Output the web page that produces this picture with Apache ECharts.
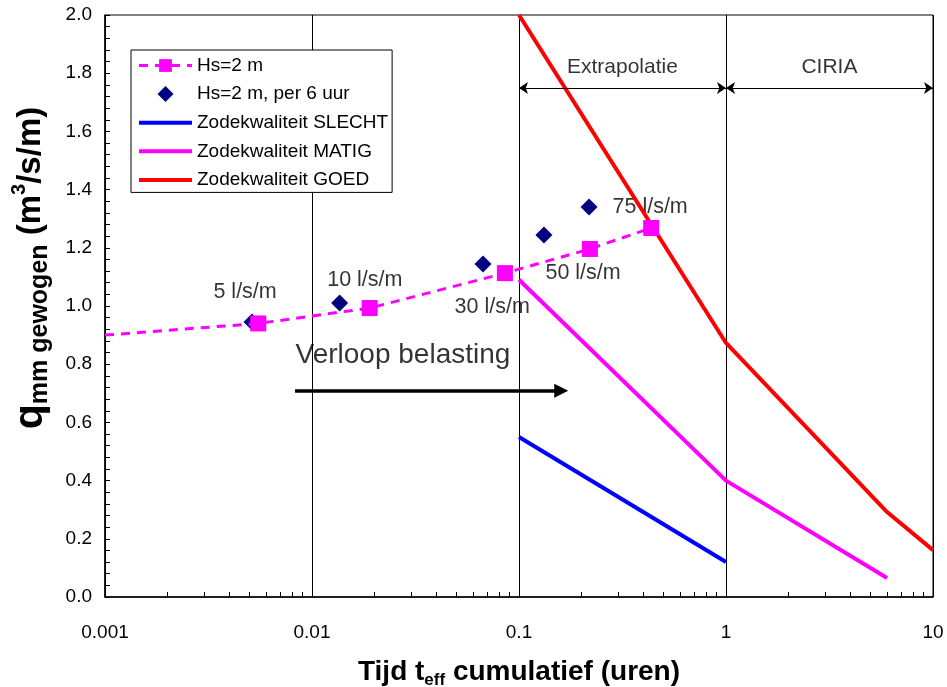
<!DOCTYPE html>
<html>
<head>
<meta charset="utf-8">
<script src="https://cdn.jsdelivr.net/npm/echarts@6/dist/echarts.min.js"></script>
<style>
html,body{margin:0;padding:0;background:#fff;}
#chart{width:947px;height:687px;}
</style>
</head>
<body>
<div id="chart"></div>
<script>
// ---- data ----
var xTicks = [0.001, 0.01, 0.1, 1, 10];
var yTicks = [0.0, 0.2, 0.4, 0.6, 0.8, 1.0, 1.2, 1.4, 1.6, 1.8, 2.0];

// Hs=2 m (dashed line with squares); first point is the line start without marker
var hsX = [0.001, 0.0055, 0.019, 0.0855, 0.22, 0.435];
var hsY = [0.90, 0.94, 0.993, 1.113, 1.196, 1.268];

// Hs=2 m, per 6 uur (diamonds)
var h6X = [0.00513, 0.0136, 0.067, 0.132, 0.218];
var h6Y = [0.945, 1.01, 1.144, 1.244, 1.34];

// Zodekwaliteit lines
var slechtX = [0.1, 1];
var slechtY = [0.55, 0.12];
var matigX = [0.1, 1, 6];
var matigY = [1.09, 0.40, 0.065];
var goedX = [0.1, 1, 6, 10];
var goedY = [2.0, 0.873, 0.292, 0.161];

// annotation texts (data coordinates)
var rateText = ['5 l/s/m', '10 l/s/m', '30 l/s/m', '50 l/s/m', '75 l/s/m'];
var rateX = [0.00475, 0.018, 0.0742, 0.204, 0.43];
var rateY = [1.048, 1.089, 0.997, 1.113, 1.34];

var regionText = ['Extrapolatie', 'CIRIA'];
var regionX = [0.316, 3.16];
var regionY = [1.821, 1.821];
var regionArrowY = 1.749;
var regionBounds = [0.1, 1, 10];

var trendText = 'Verloop belasting';
var trendTextPos = [0.0275, 0.832];
var trendArrowX = [0.00828, 0.16];
var trendArrowY = 0.709;

var names = ['Hs=2 m', 'Hs=2 m, per 6 uur', 'Zodekwaliteit SLECHT', 'Zodekwaliteit MATIG', 'Zodekwaliteit GOED'];

function pairs(xs, ys) { return xs.map(function (x, i) { return [x, ys[i]]; }); }

var FONT = '"Liberation Sans", Arial, sans-serif';
var DIAMOND = 'path://M0,-1L1,0L0,1L-1,0Z';

var hsData = pairs(hsX, hsY).map(function (p, i) {
  return i === 0 ? { value: p, symbol: 'none' } : { value: p };
});

var rateData = rateText.map(function (t, i) { return { name: t, value: [rateX[i], rateY[i]] }; });
var regionData = regionText.map(function (t, i) { return { name: t, value: [regionX[i], regionY[i]] }; });
var trendData = [{ name: trendText, value: trendTextPos }];

var regionArrows = [];
for (var i = 0; i < regionBounds.length - 1; i++) {
  regionArrows.push([{ coord: [regionBounds[i], regionArrowY] }, { coord: [regionBounds[i + 1], regionArrowY] }]);
}

var chart = echarts.init(document.getElementById('chart'), null, { renderer: 'canvas' });

var legendData = names.map(function (n, i) {
  if (i >= 2) return { name: n, itemStyle: { opacity: 0 }, lineStyle: { width: 4 } };
  if (i === 1) return { name: n, icon: DIAMOND };
  return { name: n, lineStyle: { width: 3 } };
});

var option = {
  animation: false,
  backgroundColor: '#fff',
  textStyle: { fontFamily: FONT },
  grid: {
    left: 105, right: 14, top: 15, bottom: 90,
    containLabel: false, outerBoundsMode: 'none',
    show: true, borderColor: '#000', borderWidth: 1, backgroundColor: 'transparent'
  },
  legend: {
    data: legendData,
    orient: 'vertical',
    left: 131, top: 50,
    backgroundColor: '#fff',
    borderColor: '#000', borderWidth: 1,
    padding: [6, 4, 3, 6],
    itemGap: 9.6,
    itemWidth: 53, itemHeight: 16,
    textStyle: { fontSize: 19, color: '#000', fontFamily: FONT },
    selectedMode: false
  },
  xAxis: {
    type: 'log', logBase: 10, min: 0.001, max: 10,
    name: '{a|Tijd t}{s|eff}{a| cumulatief (uren)}',
    nameLocation: 'middle', nameGap: 58,
    nameTextStyle: {
      rich: {
        a: { fontSize: 28, fontWeight: 'bold', color: '#000', fontFamily: FONT, lineHeight: 34, verticalAlign: 'middle' },
        s: { fontSize: 17, fontWeight: 'bold', color: '#000', fontFamily: FONT, lineHeight: 34, verticalAlign: 'bottom' }
      }
    },
    axisLine: { show: true, lineStyle: { color: '#000', width: 1.5 } },
    axisTick: { show: true, inside: true, length: 5, lineStyle: { color: '#000' } },
    minorTick: { show: true, splitNumber: 9, length: 5, lineStyle: { color: '#000' } },
    splitLine: { show: true, lineStyle: { color: '#000', width: 1 } },
    axisLabel: {
      margin: 26, fontSize: 19, color: '#000', fontFamily: FONT,
      formatter: function (v) { return String(+(+v).toPrecision(3)); }
    }
  },
  yAxis: {
    type: 'value', min: 0, max: 2, interval: 0.2,
    name: '{q|q}{s|mm gewogen}{a| (m}{p|3}{a|/s/m)}',
    nameLocation: 'middle', nameGap: 52, nameRotate: 90,
    nameTextStyle: {
      padding: [0, 0, 0, 76],
      rich: {
        q: { fontSize: 41, fontWeight: 'bold', color: '#000', fontFamily: FONT, lineHeight: 44, verticalAlign: 'middle' },
        s: { fontSize: 25, fontWeight: 'bold', color: '#000', fontFamily: FONT, lineHeight: 44, verticalAlign: 'bottom' },
        a: { fontSize: 33, fontWeight: 'bold', color: '#000', fontFamily: FONT, lineHeight: 44, verticalAlign: 'middle' },
        p: { fontSize: 20, fontWeight: 'bold', color: '#000', fontFamily: FONT, lineHeight: 44, verticalAlign: 'top' }
      }
    },
    axisLine: { show: true, lineStyle: { color: '#000', width: 1.5 } },
    axisTick: { show: true, inside: true, length: 5, lineStyle: { color: '#000' } },
    minorTick: { show: true, splitNumber: 5, length: 5, lineStyle: { color: '#000' } },
    splitLine: { show: false },
    axisLabel: {
      margin: 13, fontSize: 19, color: '#000', fontFamily: FONT,
      formatter: function (v) { return (+v).toFixed(1); }
    }
  },
  series: [
    {
      name: '_rates', type: 'scatter', data: rateData, symbolSize: 0, silent: true, z: 1,
      label: { show: true, position: 'inside', formatter: '{b}', fontSize: 21.5, color: '#000', fontFamily: FONT }
    },
    {
      name: '_regions', type: 'scatter', data: regionData, symbolSize: 0, silent: true, z: 1,
      label: { show: true, position: 'inside', formatter: '{b}', fontSize: 21, color: '#000', fontFamily: FONT },
      markLine: {
        silent: true, symbol: ['arrow', 'arrow'], symbolSize: 9,
        lineStyle: { color: '#000', width: 1, type: 'solid' },
        label: { show: false },
        data: regionArrows
      }
    },
    {
      name: '_trend', type: 'scatter', data: trendData, symbolSize: 0, silent: true, z: 1,
      label: { show: true, position: 'inside', formatter: '{b}', fontSize: 28, color: '#000', fontFamily: FONT },
      markLine: {
        silent: true, symbol: ['none', 'triangle'], symbolSize: 14,
        lineStyle: { color: '#000', width: 3.5, type: 'solid' },
        label: { show: false },
        data: [[{ coord: [trendArrowX[0], trendArrowY] }, { coord: [trendArrowX[1], trendArrowY] }]]
      }
    },
    {
      name: names[2], type: 'line', data: pairs(slechtX, slechtY), symbol: 'none',
      lineStyle: { color: '#0000FF', width: 4 }, itemStyle: { color: '#0000FF' }
    },
    {
      name: names[3], type: 'line', data: pairs(matigX, matigY), symbol: 'none',
      lineStyle: { color: '#FF00FF', width: 4 }, itemStyle: { color: '#FF00FF' }
    },
    {
      name: names[4], type: 'line', data: pairs(goedX, goedY), symbol: 'none',
      lineStyle: { color: '#FF0000', width: 4 }, itemStyle: { color: '#FF0000' }
    },
    {
      name: names[0], type: 'line', data: hsData, symbol: 'rect', symbolSize: 16, showSymbol: true,
      lineStyle: { color: '#FF00FF', width: 3, type: [9, 7] },
      itemStyle: { color: '#FF00FF' }
    },
    {
      name: names[1], type: 'scatter', data: pairs(h6X, h6Y), symbol: DIAMOND, symbolSize: 17,
      symbolKeepAspect: true,
      itemStyle: { color: '#000080', opacity: 1 }
    }
  ]
};

chart.setOption(option);
</script>
</body>
</html>
